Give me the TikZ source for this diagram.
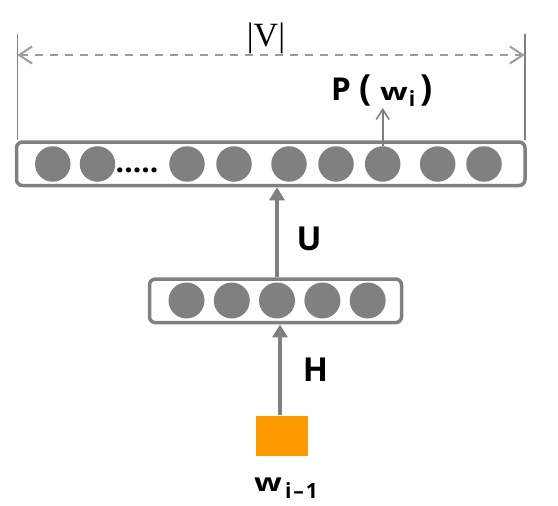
\documentclass[tikz,border=0pt]{standalone}
\usepackage{fontspec}
\setsansfont{Open Sans}
\newfontfamily\vfont{Liberation Serif}
\usepackage{graphicx}
\usetikzlibrary{arrows.meta}
\definecolor{lgray}{HTML}{808080}
\definecolor{dgray}{HTML}{9C9C9C}
\definecolor{orng}{HTML}{FF9900}
\begin{document}
\begin{tikzpicture}[x=1pt,y=-1pt,
  layer/.style={draw=lgray,line width=3.5pt,rounded corners=6pt,inner sep=0pt},
  unit/.style={circle,fill=lgray,minimum size=35.5pt,inner sep=0pt},
  flow/.style={draw=lgray,line width=4pt,-{Triangle[length=13pt,width=15pt]}},
  thinline/.style={draw=lgray,line width=1.6pt},
  dimline/.style={draw=dgray,line width=2pt,dash pattern=on 8pt off 7pt,
    {Straight Barb[length=13pt,width=17pt,line width=2pt]}-{Straight Barb[length=13pt,width=17pt,line width=2pt]}},
  lbl/.style={font=\sffamily\bfseries\fontsize{33}{33}\selectfont,inner sep=0pt},
]
\useasboundingbox (0,0) rectangle (558,506);
% layers
\node[layer,minimum width=508.5pt,minimum height=43.5pt] (top) at (270.75,163.75) {};
\node[layer,minimum width=252pt,minimum height=43.7pt] (mid) at (275.5,300.85) {};
\foreach \x [count=\i] in {52.8,97.5,187,234,289,336,382.7,437.7,484}
  \node[unit] (t\i) at (\x,164) {};
\foreach \x [count=\i] in {186.5,231.8,277,322.4,367.7}
  \node[unit,minimum size=36pt] (m\i) at (\x,300.5) {};
\node[anchor=base west,inner sep=0pt,font=\sffamily\bfseries\fontsize{30}{30}\selectfont] (dots) at (115.5,172.5) {.....};
% input square
\node[fill=orng,minimum width=52pt,minimum height=40pt,inner sep=0pt] (sq) at (282,435.5) {};
% arrows
\draw[flow] (mid.north -| m3) -- (top.south -| m3);
\draw[flow] ([xshift=-2pt]sq.north) -- ([xshift=-2pt]sq.north |- mid.south);
% dimension
\coordinate (vl) at (17.3,34);
\coordinate (vr) at (524.7,34);
\coordinate (dl) at (17.3,55);
\coordinate (dr) at (524.7,55);
\draw[thinline] (vl) -- (vl |- top.north);
\draw[thinline] (vr) -- (vr |- top.north);
\draw[dimline] (dl) -- (dr);
\node[anchor=base,inner sep=0pt,font=\vfont\fontsize{34}{34}\selectfont] (V) at (266,46.7) {|V|};
% output probability
\coordinate (ptip) at (382.7,108);
\draw[thinline,-{Straight Barb[length=10pt,width=13pt,line width=1.6pt]}] (t7.north) -- (ptip);
\node[anchor=base west,inner sep=0pt,font=\sffamily\bfseries] (pw) at (331,100.7)
  {{\fontsize{31.5}{32}\selectfont P}\hspace{9pt}{\fontsize{36}{36}\selectfont(}\hspace{8pt}\scalebox{1.35}[1]{\fontsize{24}{24}\selectfont w}\hspace{1pt}\raisebox{-6pt}{\fontsize{21}{21}\selectfont i}\hspace{5pt}{\fontsize{36}{36}\selectfont)}};
% labels
\node[lbl] (U) at (309,239.2) {U};
\node[lbl] (H) at (315.5,369.85) {H};
\node[anchor=base west,inner sep=0pt,font=\sffamily\bfseries] (w) at (254,491.7)
  {\scalebox{1.3}[1]{\fontsize{25}{25}\selectfont w}\hspace{3pt}\raisebox{-6.5pt}{\fontsize{21}{21}\selectfont i\hspace{2pt}–\hspace{2pt}1}};
\end{tikzpicture}
\end{document}
